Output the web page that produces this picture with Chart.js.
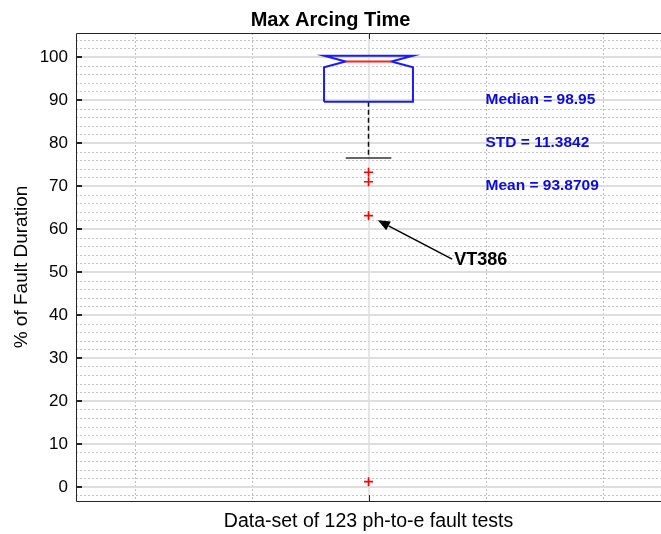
<!DOCTYPE html>
<html>
<head>
<meta charset="utf-8">
<script src="https://cdn.jsdelivr.net/npm/chart.js@4.4.1/dist/chart.umd.min.js"></script>
<style>
  body { margin: 0; background: #fff; }
  #wrap { width: 661px; height: 534px; }
</style>
</head>
<body>
<div id="wrap"><canvas id="box_chart" width="661" height="534"></canvas></div>
<script>
const FONT = "'Liberation Sans', Arial, Helvetica, sans-serif";

// box plot values (% of fault duration)
const category = [1];
const quartiles = [89.6, 100];     // q1, q3
const median = [98.95];
const notch = [97.6, 100.3];       // notch low, notch high
const lowerWhisker = [76.5];
const outliers = [73.2, 71.0, 63.1, 1.2];

// stats printed next to the box
const statLabels = ["Median = 98.95", "STD = 11.3842", "Mean = 93.8709"];
const statX = [1.2, 1.2, 1.2];
const statY = [90, 80, 70];

// arrow note pointing at one outlier
const noteText = ["VT386"];
const noteTail = [1.143, 53];
const noteHead = [1.016, 62.0];

// axes
const xRange = [0.5, 1.5];
const yRange = [-3.3, 105.6];
const yMajor = [0, 10, 20, 30, 40, 50, 60, 70, 80, 90, 100];
const xMinor = [0.6, 0.8, 1.2, 1.4];

const BOX_HALF = 0.076;
const NOTCH_HALF = 0.039;
const CAP_HALF = 0.039;

function minorY() {
  let out = [];
  for (let v = -2; v <= 104; v += 2) {
    if (v % 10 !== 0) out.push(v);
  }
  return out;
}

function boxOutline() {
  let c = category[0];
  return [
    { x: c - BOX_HALF, y: quartiles[0] },
    { x: c - BOX_HALF, y: notch[0] },
    { x: c - NOTCH_HALF, y: median[0] },
    { x: c - BOX_HALF, y: notch[1] },
    { x: c + BOX_HALF, y: notch[1] },
    { x: c + NOTCH_HALF, y: median[0] },
    { x: c + BOX_HALF, y: notch[0] },
    { x: c + BOX_HALF, y: quartiles[0] },
    { x: c - BOX_HALF, y: quartiles[0] },
  ];
}

function lineSet(data, color, width, dash) {
  return {
    type: "line",
    data: data,
    borderColor: color,
    borderWidth: width,
    borderDash: dash || [],
    pointRadius: 0,
    showLine: true,
    fill: false,
    tension: 0,
  };
}

function crisp(p) {
  return Math.round(p) + 0.5;
}

const matlabAxes = {
  id: "matlabAxes",
  beforeDatasetsDraw(chart) {
    const { ctx, chartArea: a, scales } = chart;
    const x = scales.x, y = scales.y;
    ctx.save();
    // minor grid, dotted
    ctx.lineWidth = 1;
    ctx.strokeStyle = "#c6c6c6";
    ctx.setLineDash([2, 2]);
    minorY().forEach(function (v) {
      let p = crisp(y.getPixelForValue(v));
      ctx.beginPath(); ctx.moveTo(a.left, p); ctx.lineTo(a.right, p); ctx.stroke();
    });
    ctx.strokeStyle = "#bdbdbd";
    xMinor.forEach(function (v) {
      let p = crisp(x.getPixelForValue(v));
      ctx.beginPath(); ctx.moveTo(p, a.top); ctx.lineTo(p, a.bottom); ctx.stroke();
    });
    // major grid, solid
    ctx.setLineDash([]);
    ctx.strokeStyle = "#dedede";
    ctx.lineWidth = 2;
    yMajor.forEach(function (v) {
      let p = Math.round(y.getPixelForValue(v));
      ctx.beginPath(); ctx.moveTo(a.left, p); ctx.lineTo(a.right, p); ctx.stroke();
    });
    ctx.lineWidth = 1.5;
    let cx = Math.round(x.getPixelForValue(category[0]));
    ctx.beginPath(); ctx.moveTo(cx, a.top); ctx.lineTo(cx, a.bottom); ctx.stroke();
    ctx.restore();
  },
  afterDatasetsDraw(chart) {
    const { ctx, chartArea: a, scales } = chart;
    const x = scales.x, y = scales.y;
    ctx.save();
    // frame
    ctx.strokeStyle = "#262626";
    ctx.lineWidth = 1;
    let l = crisp(a.left), t = crisp(a.top), b = crisp(a.bottom);
    ctx.beginPath();
    ctx.moveTo(a.right, t); ctx.lineTo(l, t); ctx.lineTo(l, b); ctx.lineTo(a.right, b);
    ctx.stroke();
    // inward ticks
    yMajor.forEach(function (v) {
      let p = Math.round(y.getPixelForValue(v));
      ctx.lineWidth = 2;
      ctx.beginPath(); ctx.moveTo(a.left, p); ctx.lineTo(a.left + 6, p); ctx.stroke();
    });
    ctx.lineWidth = 1;
    let cx = crisp(x.getPixelForValue(category[0]));
    ctx.beginPath(); ctx.moveTo(cx, a.top); ctx.lineTo(cx, a.top + 6); ctx.stroke();
    ctx.beginPath(); ctx.moveTo(cx, a.bottom); ctx.lineTo(cx, a.bottom - 6); ctx.stroke();

    // stats text
    ctx.fillStyle = "#0a0ae6";
    ctx.font = "bold 15.5px " + FONT;
    ctx.textAlign = "left";
    ctx.textBaseline = "middle";
    statLabels.forEach(function (s, i) {
      ctx.fillText(s, x.getPixelForValue(statX[i]), y.getPixelForValue(statY[i]));
    });

    // arrow note
    let tx = x.getPixelForValue(noteTail[0]), ty = y.getPixelForValue(noteTail[1]);
    let hx = x.getPixelForValue(noteHead[0]), hy = y.getPixelForValue(noteHead[1]);
    let ang = Math.atan2(hy - ty, hx - tx);
    let len = 12, half = 5;
    let bx = hx - len * Math.cos(ang), by = hy - len * Math.sin(ang);
    ctx.strokeStyle = "#000";
    ctx.fillStyle = "#000";
    ctx.lineWidth = 1.5;
    ctx.beginPath(); ctx.moveTo(tx, ty); ctx.lineTo(bx, by); ctx.stroke();
    ctx.beginPath();
    ctx.moveTo(hx, hy);
    ctx.lineTo(bx + half * Math.sin(ang), by - half * Math.cos(ang));
    ctx.lineTo(bx - half * Math.sin(ang), by + half * Math.cos(ang));
    ctx.closePath();
    ctx.fill();
    ctx.font = "bold 18px " + FONT;
    ctx.fillText(noteText[0], tx + 2, ty + 1);
    ctx.restore();
  },
};

function init() {
  const ctx = document.getElementById("box_chart");
  let c = category[0];
  let datasets = [
    lineSet([{ x: c - NOTCH_HALF, y: median[0] }, { x: c + NOTCH_HALF, y: median[0] }], "#ff2020", 2),
    lineSet(boxOutline(), "#1a1aff", 2),
    lineSet([{ x: c - CAP_HALF, y: lowerWhisker[0] }, { x: c + CAP_HALF, y: lowerWhisker[0] }], "#333333", 1.5),
    lineSet([{ x: c, y: quartiles[0] }, { x: c, y: lowerWhisker[0] }], "#111111", 1.5, [5, 3]),
    {
      type: "scatter",
      data: outliers.map(function (v) { return { x: c, y: v }; }),
      pointStyle: "cross",
      pointRadius: 4.5,
      borderColor: "#ff0000",
      borderWidth: 1.6,
      showLine: false,
    },
  ];

  let chart = new Chart(ctx, {
    type: "scatter",
    data: { datasets: datasets },
    options: {
      responsive: false,
      animation: false,
      devicePixelRatio: 1,
      layout: { autoPadding: false, padding: { top: 0, right: 0, bottom: 0, left: 0 } },
      plugins: {
        legend: { display: false },
        tooltip: { enabled: false },
        title: {
          display: true,
          text: "Max Arcing Time",
          color: "#000",
          font: { family: FONT, size: 20, weight: "bold" },
          padding: { top: 8, bottom: 1 },
        },
      },
      scales: {
        x: {
          type: "linear",
          position: "bottom",
          min: xRange[0],
          max: xRange[1],
          grid: { display: false, drawTicks: false },
          border: { display: false },
          ticks: { display: false },
          afterBuildTicks: function (scale) { scale.ticks = []; },
          title: {
            display: true,
            text: "Data-set of 123 ph-to-e fault tests",
            color: "#000",
            font: { family: FONT, size: 19.5 },
            padding: { top: 0, bottom: 1 },
          },
          afterFit: function (scale) {
            scale.height = 33;
            scale.paddingLeft = 0;
            scale.paddingRight = 0;
          },
        },
        y: {
          type: "linear",
          position: "left",
          min: yRange[0],
          max: yRange[1],
          grid: { display: false, drawTicks: false },
          border: { display: false },
          ticks: {
            color: "#000",
            padding: 8,
            font: { family: FONT, size: 17 },
          },
          afterBuildTicks: function (scale) {
            scale.ticks = yMajor.map(function (v) { return { value: v }; });
          },
          title: {
            display: true,
            text: "% of Fault Duration",
            color: "#000",
            font: { family: FONT, size: 19 },
            padding: { top: 10, bottom: 0 },
          },
          afterFit: function (scale) { scale.width = 76; },
        },
      },
    },
    plugins: [matlabAxes],
  });
}

window.onload = init;
</script>
</body>
</html>
